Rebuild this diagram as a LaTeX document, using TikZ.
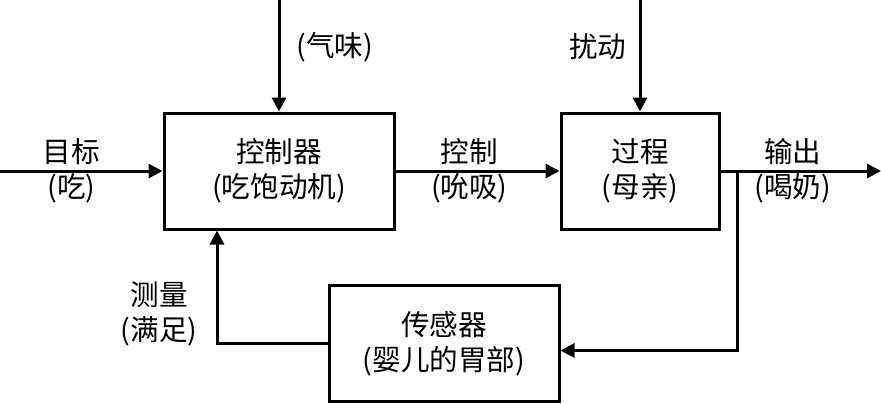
\documentclass[tikz,border=0pt]{standalone}
\usepackage{fontspec}
\newfontfamily\cjk{Noto Sans CJK SC}
\usetikzlibrary{arrows.meta,positioning}
\tikzset{
	blok/.style={draw, line width=1.5pt, minimum width=#1, minimum height=58pt, inner sep=0pt, align=center, font=\cjk\fontsize{14.3pt}{17.5pt}\selectfont},
	lbl/.style={align=center, inner sep=0pt, font=\cjk\fontsize{14.3pt}{17.5pt}\selectfont},
	svyaz/.style={line width=1.5pt, -{Triangle[length=7pt,width=7pt]}},
}
\begin{document}
\begin{tikzpicture}[x=0.5pt,y=-0.5pt]
		\useasboundingbox (0,0) rectangle (881,403);

		% блоки
		\node [blok=115pt] (ctrl) at ( 279, 171 ) {控制器\\(吃饱动机)};
		\node [blok=79pt] (proc) at ( 640, 171 ) {过程\\(母亲)};
		\node [blok=115pt] (sens) at ( 444, 343.5 ) {传感器\\(婴儿的胃部)};

		% свободные концы
		\coordinate (goal) at ( 0, 171 );
		\coordinate (smell) at ( 279, 0 );
		\coordinate (dist) at ( 640, 0 );
		\coordinate (out) at ( 881, 171 );
		\coordinate (branch) at ( 737, 171 );

		% прямая цепь
		\draw [svyaz] (goal) -- node [lbl, pos=0.44] {目标\\(吃)} (ctrl);
		\draw [svyaz] (smell) -- node [lbl, right=8pt, pos=0.42] {(气味)} (ctrl);
		\draw [svyaz] (dist) -- node [lbl, left=6pt, pos=0.42] {扰动} (proc);
		\draw [svyaz] (ctrl) -- node [lbl, pos=0.45] {控制\\(吮吸)} (proc);
		\draw [svyaz] (proc) -- node [lbl, pos=0.45] {输出\\(喝奶)} (out);

		% обратная связь
		\draw [svyaz] (branch) |- ([yshift=-3.5pt]sens.east);
		\draw [svyaz] (sens.west) -| node [lbl, left=9pt, pos=0.63] {测量\\(满足)} ([xshift=-31pt]ctrl.south);
	\end{tikzpicture}
\end{document}
